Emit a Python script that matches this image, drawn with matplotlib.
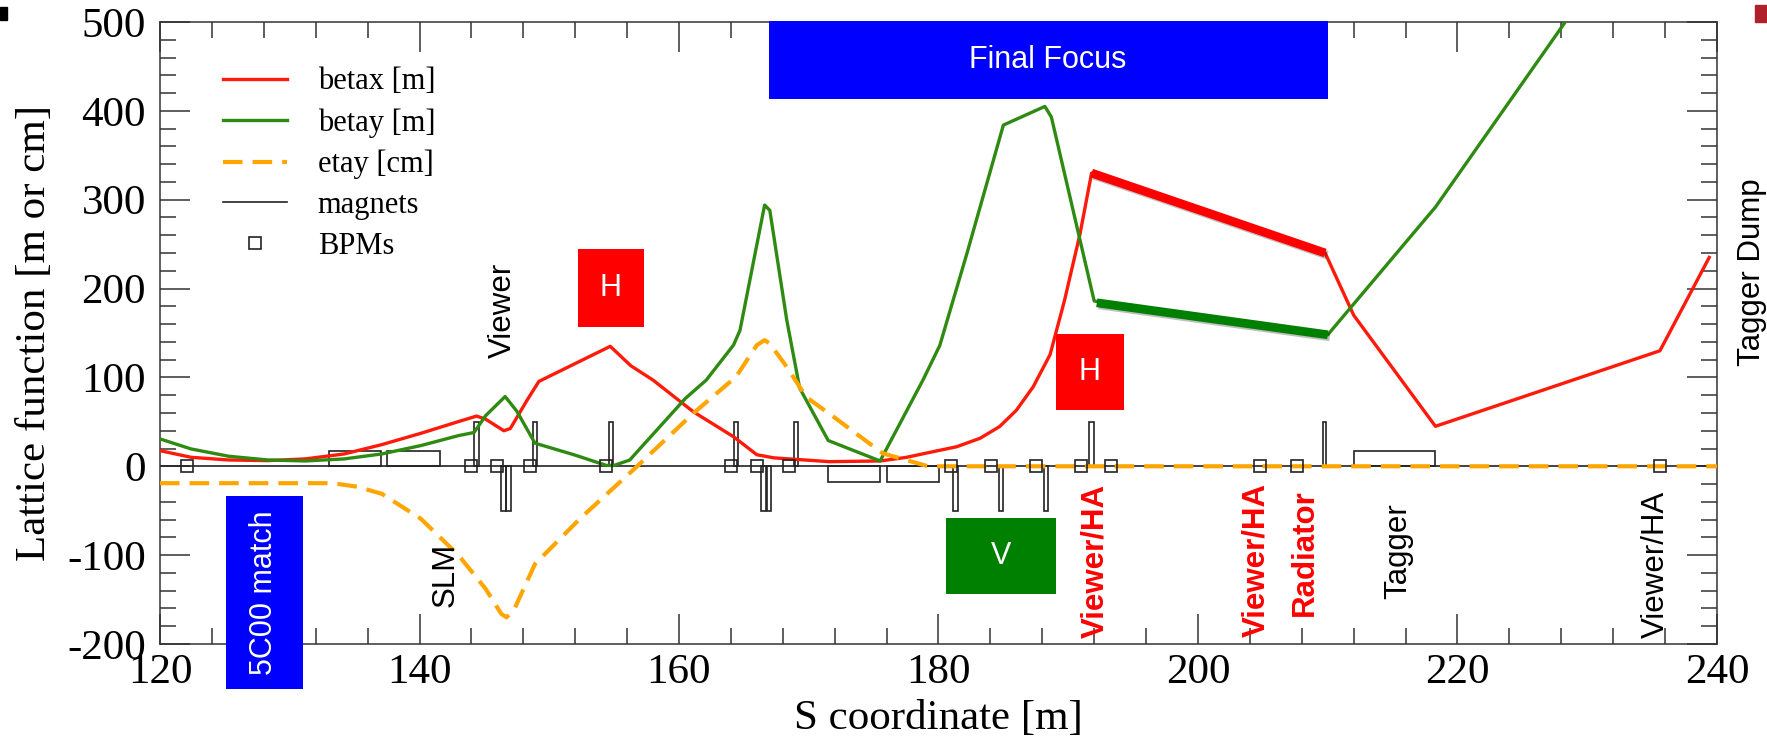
from matplotlib import pyplot as plt
from matplotlib.patches import Rectangle
from matplotlib.lines import Line2D
import matplotlib.patheffects as pe
import numpy as np

plt.rcParams['font.family'] = ['Liberation Serif', 'DejaVu Serif']
plt.rcParams['axes.unicode_minus'] = False

# lattice functions along the beamline
s_bx = [120, 122.4, 125.3, 128.3, 131.2, 134.2, 137.1, 140.1, 143.0, 144.4, 145.1,
        146.5, 147.0, 148.3, 149.2, 154.7, 156.3, 158.0, 161.1, 164.2, 166.0, 167.3,
        169.8, 171.6, 175.5, 177.5, 179.6, 181.4, 183.2, 184.7, 186.0, 187.3, 188.6,
        189.7, 190.9, 191.8, 209.8, 212.0, 218.3, 235.6, 239.4]
betax = [17.6, 10.1, 7.1, 6.4, 8.3, 13.9, 24.4, 37.1, 50.3, 56.5, 53,
         40, 42.5, 74.6, 95.5, 135, 113, 97, 61.4, 33.3, 13, 9.5,
         7, 5.2, 6, 10, 16.5, 22, 31.5, 44.6, 63, 89.5, 125.7,
         186, 261, 330, 240, 170, 45, 130, 235]

s_by = [120, 122.4, 125.3, 128.3, 131.2, 134.2, 137.1, 140.1, 143.0, 144.2, 145.1,
        146.6, 147.5, 148.9, 151.9, 154.4, 155.0, 156.2, 160.5, 162.1, 164.2, 164.7,
        166.6, 167.0, 168.3, 169.3, 171.5, 175.5, 178.8, 180.1, 182.2, 185.0, 188.2,
        188.7, 192.0, 210.0, 218.3, 228.4]
betay = [30.8, 19.5, 11.3, 7.1, 6, 8.3, 13.9, 23.3, 34.5, 38, 57,
         78.5, 62, 26, 13, 1, 1, 7, 76.5, 97, 136.4, 153,
         294, 288, 165, 88, 29, 6, 97, 136, 240, 384, 405,
         393, 186, 148, 291.7, 502]

s_ey = [120, 133.3, 135.2, 137.1, 140.1, 143.0, 145.1, 146.3, 146.7, 147.3, 148.9,
        152.4, 156.7, 161.1, 164.4, 166.0, 166.6, 167.0, 168.3, 169.8, 171.9, 175.7,
        179.2, 240]
etay = [-19, -19, -23, -31, -59, -100, -138, -166, -170, -161, -110,
        -58.5, -1, 59.6, 100.8, 136.4, 142, 138, 112, 78, 55.8, 14.6,
        0, 0]

# highlighted stretch through the final focus
s_hl = [191.8, 209.8]
bx_hl = [330, 240]
s_hl2 = [192.2, 210.0]
by_hl = [184, 148]

# quadrupoles (centre, width, strength sign)
quad_s = [144.4, 146.47, 146.84, 148.9, 154.75, 164.4, 166.5, 166.93, 169.0,
          181.3, 184.8, 188.3, 191.8, 209.75]
quad_w = [0.35, 0.37, 0.37, 0.35, 0.35, 0.35, 0.37, 0.37, 0.35,
          0.35, 0.35, 0.35, 0.35, 0.25]
quad_h = [50, -50, -50, 50, 50, 50, -50, -50, 50, -50, -50, -50, 50, 50]

# dipoles
dip_s0 = [133.0, 137.5, 171.5, 176.05, 212.0]
dip_s1 = [137.0, 141.6, 175.5, 180.05, 218.3]
dip_h = [17.5, 17.5, -17.5, -17.5, 17.5]

# beam position monitors
bpm_s = [122.1, 144.0, 146.0, 148.5, 154.35, 164.0, 166.0, 168.5, 181.0, 184.05,
         187.5, 191.0, 193.3, 204.8, 207.6, 235.6]

# coloured section boxes
box_text = ['Final Focus', '5C00 match', 'H', 'H', 'V']
box_x0 = [166.9, 125.1, 152.2, 189.05, 180.6]
box_x1 = [210.0, 131.0, 157.3, 194.3, 189.05]
box_y0 = [413.5, -250.5, 156.7, 63.3, -143.6]
box_y1 = [501, -33.4, 244.4, 149.3, -58.6]
box_color = ['#0000ff', '#0000ff', '#ff0000', '#ff0000', '#008000']
box_rot = [0, 90, 0, 0, 0]

# device labels
lab_text = ['Viewer', 'SLM', 'Viewer/HA', 'Viewer/HA', 'Radiator', 'Tagger',
            'Viewer/HA', 'Tagger Dump']
lab_s = [146.4, 142.0, 192.1, 204.5, 208.2, 215.45, 235.3, 242.7]
lab_y = [175.5, -122, -106, -105, -97.5, -95.3, -110, 218]
lab_color = ['k', 'k', '#ff0000', '#ff0000', '#ff0000', 'k', 'k', 'k']
lab_weight = ['normal', 'normal', 'bold', 'bold', 'bold', 'normal', 'normal', 'normal']

fig = plt.figure(figsize=(17.67, 7.43), dpi=100)
ax = fig.add_axes([0.09055, 0.13324, 0.88115, 0.83715])

red = '#ff1a0a'
green = '#2f8a12'
orange = '#ffa500'

ax.axhline(0, color='#222222', lw=1.2, zorder=2)

for s, w, h in zip(quad_s, quad_w, quad_h):
    ax.add_patch(Rectangle((s - w / 2, 0), w, h, fill=False, ec='#222222', lw=1.2, zorder=2))
for s0, s1, h in zip(dip_s0, dip_s1, dip_h):
    ax.add_patch(Rectangle((s0, 0), s1 - s0, h, fill=False, ec='#222222', lw=1.2, zorder=2))

ax.plot(s_bx, betax, color=red, lw=2.4, zorder=3)
ax.plot(s_by, betay, color=green, lw=2.4, zorder=3)
ax.plot(s_ey, etay, color=orange, lw=3.0, dashes=(4.7, 2.4), zorder=3)

shadow = [pe.SimpleLineShadow(offset=(1.5, -1.5), alpha=0.25), pe.Normal()]
ax.plot(s_hl, bx_hl, color='#ff0000', lw=6.3, solid_capstyle='butt', path_effects=shadow, zorder=4)
ax.plot(s_hl2, by_hl, color='#008000', lw=6.3, solid_capstyle='butt', path_effects=shadow, zorder=4)

ax.plot(bpm_s, np.zeros(len(bpm_s)), ls='none', marker='s', ms=9, mfc='none',
        mec='#222222', mew=1.2, zorder=5)

for t, x0, x1, y0, y1, c, r in zip(box_text, box_x0, box_x1, box_y0, box_y1, box_color, box_rot):
    ax.add_patch(Rectangle((x0, y0), x1 - x0, y1 - y0, color=c, lw=0, clip_on=False, zorder=6))
    ax.text((x0 + x1) / 2, (y0 + y1) / 2, t, color='white', fontsize=22, rotation=r,
            ha='center', va='center', family='Liberation Sans', zorder=7, clip_on=False)

for t, s, y, c, wt in zip(lab_text, lab_s, lab_y, lab_color, lab_weight):
    ax.text(s, y, t, color=c, fontsize=22.5, fontweight=wt, rotation=90, ha='center',
            va='center', family='Liberation Sans', zorder=7, clip_on=False)

ax.set_xlim(120, 240)
ax.set_ylim(-200, 500)
ax.set_xticks(np.arange(120, 241, 20))
ax.set_xticks(np.arange(120, 241, 4), minor=True)
ax.set_yticks(np.arange(-200, 501, 100))
ax.set_yticks(np.arange(-200, 501, 20), minor=True)
ax.tick_params(which='both', direction='in', top=True, right=True, width=1.1,
               color='#333333', labelsize=31)
ax.tick_params(which='major', length=21.5)
ax.tick_params(which='minor', length=11.5)
ax.tick_params(axis='x', pad=7)
ax.tick_params(axis='y', pad=10)
for sp in ax.spines.values():
    sp.set_linewidth(1.1)
    sp.set_color('#333333')

ax.set_xlabel('S coordinate [m]', fontsize=31)
ax.set_ylabel('Lattice function [m or cm]', fontsize=31)
ax.xaxis.set_label_coords(0.5, -0.0885)
ax.yaxis.set_label_coords(-0.068, 0.5)

handles = [Line2D([], [], color=red, lw=2.4),
           Line2D([], [], color=green, lw=2.4),
           Line2D([], [], color=orange, lw=3.0, dashes=(4.7, 2.4)),
           Line2D([], [], color='#222222', lw=1.2),
           Line2D([], [], ls='none', marker='s', ms=9, mfc='none', mec='#222222', mew=1.2)]
labels = ['betax [m]', 'betay [m]', 'etay [cm]', 'magnets', 'BPMs']
ax.legend(handles, labels, loc='upper left', bbox_to_anchor=(0.0405, 0.927),
          frameon=False, fontsize=22, handlelength=2.1, handletextpad=1.0,
          labelspacing=0.39, borderpad=0, borderaxespad=0)

# small corner marks
fig.patches.append(Rectangle((0, 0.973), 0.004, 0.018, color='black', transform=fig.transFigure))
fig.patches.append(Rectangle((0.9932, 0.970), 0.0068, 0.023, color='#b0202a', transform=fig.transFigure))

fig.savefig('out.png', dpi=100)
